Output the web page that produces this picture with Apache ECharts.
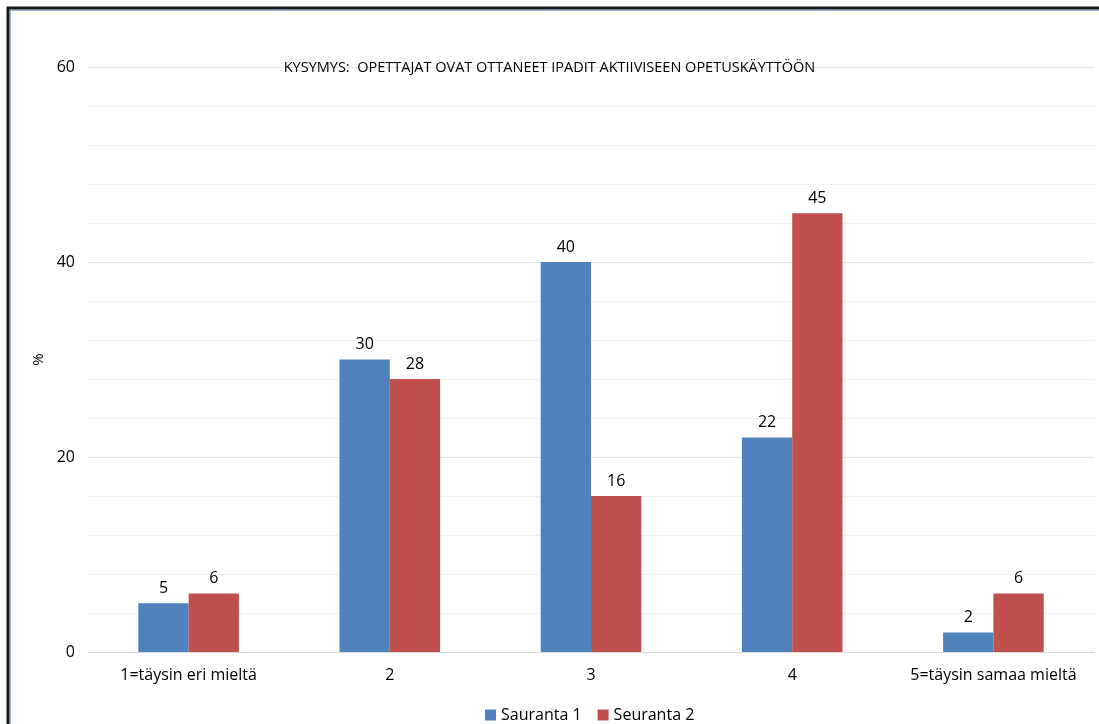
<!DOCTYPE html>
<html>
<head>
<meta charset="utf-8">
<script src="https://cdn.jsdelivr.net/npm/echarts@6/dist/echarts.min.js"></script>
<style>
  html, body { margin: 0; padding: 0; background: #ffffff; }
  #chart { width: 1099px; height: 724px; }
</style>
</head>
<body>
<div id="chart"></div>
<script>
// Answer categories on the Likert scale
const categories = ['1=täysin eri mieltä', '2', '3', '4', '5=täysin samaa mieltä'];
// Share of answers (%) in each follow-up round
const sauranta1 = [5, 30, 40, 22, 2];
const seuranta2 = [6, 28, 16, 45, 6];
const seriesNames = ['Sauranta 1', 'Seuranta 2'];
const titleText = 'KYSYMYS:  OPETTAJAT OVAT OTTANEET IPADIT AKTIIVISEEN OPETUSKÄYTTÖÖN';

const FONT = '"Open Sans", "Noto Sans", sans-serif';
const chart = echarts.init(document.getElementById('chart'), null, { renderer: 'canvas' });

const labelStyle = {
  show: true,
  position: 'top',
  distance: 7,
  color: '#000000',
  fontSize: 16,
  fontFamily: FONT
};

chart.setOption({
  animation: false,
  backgroundColor: '#ffffff',
  title: {
    text: titleText,
    left: 'center',
    top: 55,
    textStyle: { fontSize: 14.5, fontWeight: 'normal', color: '#000000', fontFamily: FONT }
  },
  legend: {
    top: 702,
    left: 480,
    itemWidth: 11,
    itemHeight: 11,
    itemGap: 16,
    icon: 'rect',
    textStyle: { fontSize: 16, color: '#000000', fontFamily: FONT },
    data: seriesNames
  },
  grid: { left: 88, right: 5, top: 67, bottom: 72, containLabel: false },
  xAxis: {
    type: 'category',
    data: categories,
    axisLine: { show: true, lineStyle: { color: '#d9d9d9', width: 1 } },
    axisTick: { show: false },
    axisLabel: { interval: 0, color: '#000000', fontSize: 16, fontFamily: FONT, margin: 15 }
  },
  yAxis: {
    type: 'value',
    min: 0,
    max: 60,
    interval: 20,
    name: '%',
    nameLocation: 'middle',
    nameGap: 42,
    nameRotate: 90,
    nameTextStyle: { color: '#000000', fontSize: 15, fontFamily: FONT },
    axisLine: { show: false },
    axisTick: { show: false },
    axisLabel: { color: '#000000', fontSize: 16, fontFamily: FONT, margin: 13 },
    splitLine: { show: true, lineStyle: { color: '#e6e6e6', width: 1 } },
    minorTick: { show: false, splitNumber: 5 },
    minorSplitLine: { show: true, lineStyle: { color: '#f2f2f2', width: 1 } }
  },
  series: [
    {
      name: seriesNames[0],
      type: 'bar',
      data: sauranta1,
      barGap: '0%',
      barCategoryGap: '50%',
      itemStyle: { color: '#4F81BD' },
      label: labelStyle
    },
    {
      name: seriesNames[1],
      type: 'bar',
      data: seuranta2,
      barGap: '0%',
      barCategoryGap: '50%',
      itemStyle: { color: '#C0504D' },
      label: labelStyle
    }
  ],
  graphic: [
    {
      type: 'polyline',
      silent: true,
      shape: { points: [[8, 724], [8, 8], [1099, 8]] },
      style: { stroke: '#1a1a1a', lineWidth: 3, fill: null }
    },
    {
      type: 'polyline',
      silent: true,
      shape: { points: [[10, 724], [10, 10], [1099, 10]] },
      style: { stroke: '#4F6FA0', lineWidth: 1, fill: null }
    }
  ]
});
</script>
</body>
</html>
